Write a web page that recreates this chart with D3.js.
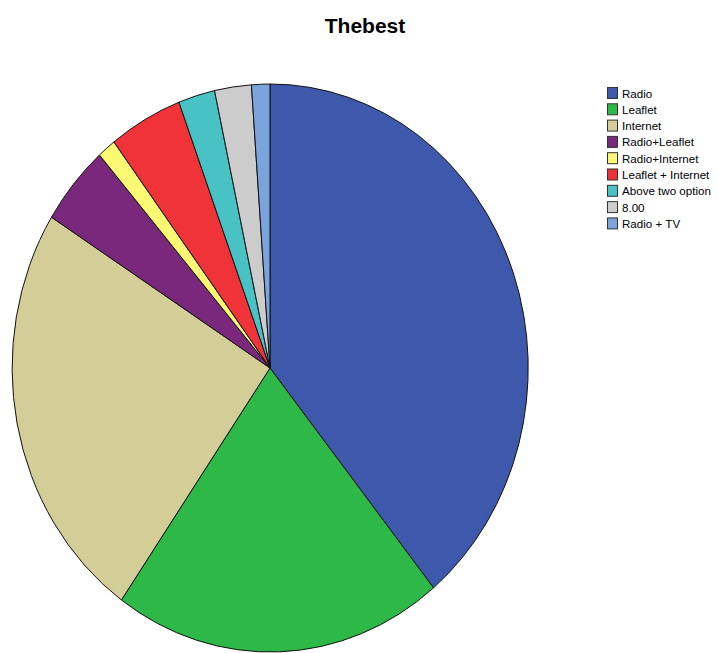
<!DOCTYPE html>
<html>
<head>
<meta charset="utf-8">
<script src="https://cdn.jsdelivr.net/npm/d3@7"></script>
<style>
  body { margin: 0; background: #fff; }
  text { font-family: "Liberation Sans", Arial, sans-serif; }
</style>
</head>
<body>
<div id="chart"></div>
<script>
var width = 718, height = 653;

// data
var categories = ["Radio", "Leaflet", "Internet", "Radio+Leaflet", "Radio+Internet",
                  "Leaflet + Internet", "Above two option", "8.00", "Radio + TV"];
var counts = [34, 18, 21, 4, 1, 4, 2, 2, 1];
var colors = ["#3e58ac", "#2eb848", "#d3ce97", "#79287c", "#fbf873",
              "#ef3338", "#48c2c5", "#cccccc", "#7ba4dd"];

var cx = 270, cy = 368, rx = 258, ry = 284;

var svg = d3.select("#chart").append("svg")
    .attr("width", width)
    .attr("height", height);

svg.append("text")
    .attr("x", 365)
    .attr("y", 33)
    .attr("text-anchor", "middle")
    .style("font-size", "21px")
    .style("font-weight", "bold")
    .text("Thebest");

var data = categories.map(function (c, i) {
    return { name: c, value: counts[i], color: colors[i] };
});

var pie = d3.pie()
    .sort(null)
    .value(function (d) { return d.value; });

// unit circle, stretched to the ellipse of the reference
var arc = d3.arc().innerRadius(0).outerRadius(1);

var g = svg.append("g")
    .attr("transform", "translate(" + cx + "," + cy + ") scale(" + rx + "," + ry + ")");

g.selectAll("path")
    .data(pie(data))
    .enter()
    .append("path")
    .attr("d", arc)
    .attr("fill", function (d) { return d.data.color; })
    .attr("stroke", "#111")
    .attr("stroke-width", 1)
    .attr("vector-effect", "non-scaling-stroke");

// legend
var legend = svg.append("g").attr("transform", "translate(607,87)");
var item = legend.selectAll("g")
    .data(data)
    .enter()
    .append("g")
    .attr("transform", function (d, i) { return "translate(0," + (i * 16.3) + ")"; });

item.append("rect")
    .attr("x", 0.5)
    .attr("y", 0.5)
    .attr("width", 10)
    .attr("height", 11)
    .attr("fill", function (d) { return d.color; })
    .attr("stroke", "#333")
    .attr("stroke-width", 1);

item.append("text")
    .attr("x", 15)
    .attr("y", 10.5)
    .style("font-size", "11.6px")
    .attr("fill", "#000")
    .text(function (d) { return d.name; });
</script>
</body>
</html>
